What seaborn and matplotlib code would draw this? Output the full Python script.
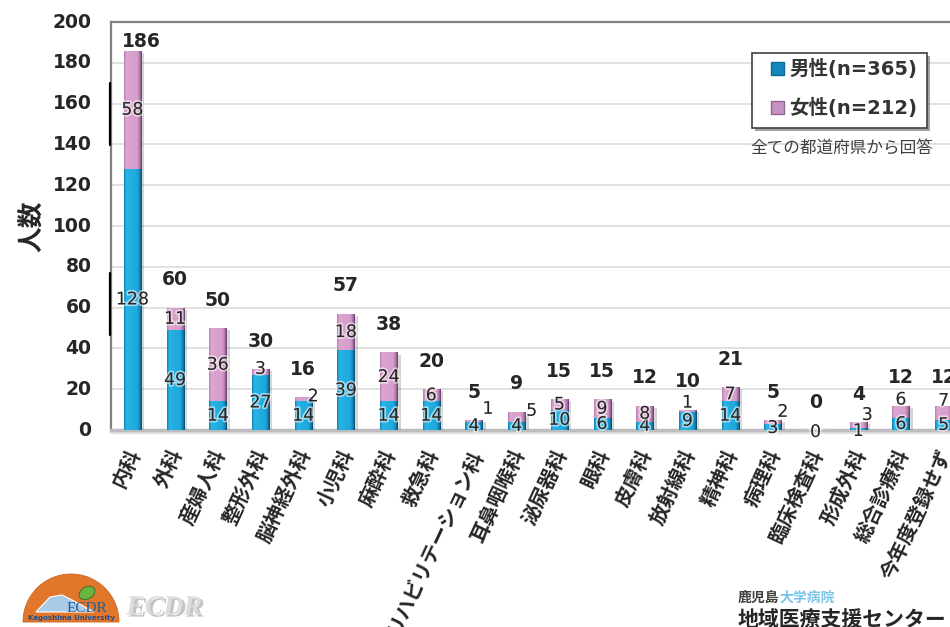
import numpy as np
import pandas as pd
import matplotlib
matplotlib.use("Agg")
import matplotlib.pyplot as plt
import matplotlib.patheffects as pe
from matplotlib.colors import LinearSegmentedColormap
from matplotlib.patches import Patch, Wedge, Polygon, Ellipse, Rectangle
from matplotlib.transforms import ScaledTranslation
import seaborn as sns

departments = ["内科", "外科", "産婦人科", "整形外科", "脳神経外科", "小児科", "麻酔科", "救急科",
               "リハビリテーション科", "耳鼻咽喉科", "泌尿器科", "眼科", "皮膚科", "放射線科",
               "精神科", "病理科", "臨床検査科", "形成外科", "総合診療科", "今年度登録せず"]
male = [128, 49, 14, 27, 14, 39, 14, 14, 4, 4, 10, 6, 4, 9, 14, 3, 0, 1, 6, 5]
female = [58, 11, 36, 3, 2, 18, 24, 6, 1, 5, 5, 9, 8, 1, 7, 2, 0, 3, 6, 7]
totals = [186, 60, 50, 30, 16, 57, 38, 20, 5, 9, 15, 15, 12, 10, 21, 5, 0, 4, 12, 12]
y_ticks = list(range(0, 201, 20))

# Small segments carry their label beside or above the bar (pixel offsets).
female_offsets = {3: (0, 3), 4: (10, 3), 8: (14, 12), 9: (15, 6), 13: (0, 8),
                  15: (10, 10), 16: (0, 0), 17: (9, 10), 18: (0, 12), 19: (0, 12)}
male_offsets = {15: (0, -1), 17: (0, -2), 16: (0, -2)}

sns.set_theme(style="white")
plt.rcParams["font.family"] = ["DejaVu Sans", "Noto Sans CJK JP"]

W, H = 950, 627
fig = plt.figure(figsize=(W / 100, H / 100), dpi=100, facecolor="white")
ax = fig.add_axes([111 / W, 1 - 430 / H, 854 / W, 408 / H])
ax.set_axisbelow(True)

df = pd.DataFrame({"dept": departments, "male": male, "female": female})
MALE_C, FEMALE_C = "#1ea7dc", "#d29ac6"
shadow = [pe.SimplePatchShadow(offset=(2.5, -1.5), shadow_rgbFace="#555555", alpha=0.25), pe.Normal()]
sns.barplot(data=df, x="dept", y="male", color=MALE_C, width=0.4, saturation=1, ax=ax, zorder=3)
sns.barplot(data=df, x="dept", y="female", bottom=df["male"], color=FEMALE_C, width=0.4,
            saturation=1, ax=ax, zorder=3)
ax.set_xlim(-0.5, 19.5)
ax.set_ylim(0, 200)

# Glossy shading laid over every bar, clipped to the bar itself.
male_cm = LinearSegmentedColormap.from_list(
    "m", [(0, "#0f7fb0"), (0.12, "#27b4e6"), (0.75, "#1ea7dc"), (0.9, "#147fb0"), (1, "#07486c")])
female_cm = LinearSegmentedColormap.from_list(
    "f", [(0, "#b67fb0"), (0.12, "#dca6d0"), (0.75, "#d69ecb"), (0.9, "#ab74a6"), (1, "#5f3568")])
grad = np.linspace(0, 1, 64)[None, :]
for container, cmap in zip(ax.containers, (male_cm, female_cm)):
    for bar in container:
        bar.set_path_effects(shadow)
        if bar.get_height() <= 0:
            continue
        x0, y0 = bar.get_x(), bar.get_y()
        x1, y1 = x0 + bar.get_width(), y0 + bar.get_height()
        im = ax.imshow(grad, cmap=cmap, aspect="auto", extent=(x0, x1, y0, y1), zorder=3.2)
        im.set_clip_path(bar)
ax.set_xlim(-0.5, 19.5)
ax.set_ylim(0, 200)

# Grid and frame
ax.yaxis.grid(True, color="#d9d9d9", lw=1.1)
ax.xaxis.grid(False)
ax.spines["right"].set_visible(False)
for side in ("top", "left"):
    ax.spines[side].set_color("#808080")
    ax.spines[side].set_linewidth(1.6)
ax.spines["bottom"].set_color("#bdbdbd")
ax.spines["bottom"].set_linewidth(2.5)
ax.plot([0, 1], [-0.006, -0.006], transform=ax.transAxes, color="#e2e2e2", lw=2.5,
        clip_on=False, zorder=2)
for lo, hi in ((273, 335), (83, 145)):
    ax.plot([-0.0015, -0.0015], [(430 - lo) / 408, (430 - hi) / 408], transform=ax.transAxes,
            color="black", lw=1.6, clip_on=False, zorder=6)

# Axis text
ax.set_yticks(y_ticks)
ax.set_yticklabels(y_ticks, fontsize=13.5, fontweight="bold", color="#262626")
ax.tick_params(axis="y", length=0, pad=14)
lift = ScaledTranslation(0, 2 / 100, fig.dpi_scale_trans)
for lab in ax.get_yticklabels():
    lab.set_transform(lab.get_transform() + lift)
ax.set_xticks(range(len(departments)))
ax.set_xticklabels(departments, rotation=65, ha="right", va="center", rotation_mode="anchor",
                   fontsize=14.5, fontweight="bold", color="#262626")
ax.tick_params(axis="x", length=0, pad=15)
nudge = ScaledTranslation(3 / 100, 0, fig.dpi_scale_trans)
for lab in ax.get_xticklabels():
    lab.set_transform(lab.get_transform() + nudge)
ax.set_xlabel("")
ax.set_ylabel("人数", fontsize=18.5, fontweight="bold", color="#262626", labelpad=5)

# Value labels
halo = [pe.withStroke(linewidth=2.5, foreground="white", alpha=0.55)]
for i in range(len(departments)):
    dx, dy = male_offsets.get(i, (0, 0))
    ax.annotate(male[i], (i, male[i] / 2), xytext=(dx * 0.72, dy * 0.72), textcoords="offset points",
                ha="center", va="center", fontsize=12.5, color="#262626", zorder=5,
                path_effects=halo, annotation_clip=False)
    if i != 16:
        dx, dy = female_offsets.get(i, (0, 0))
        ax.annotate(female[i], (i, male[i] + female[i] / 2), xytext=(dx * 0.72, dy * 0.72),
                    textcoords="offset points", ha="center", va="center", fontsize=12.5,
                    color="#262626", zorder=5, path_effects=halo, annotation_clip=False)
    shift = (6.5, 6.5) if i == 0 else (0, 20)
    ax.annotate(totals[i], (i, totals[i]), xytext=shift, textcoords="offset points",
                ha="center", va="center", fontsize=13.5, fontweight="bold",
                color="#262626", zorder=5, annotation_clip=False)

# Page-level overlay in pixel coordinates
over = fig.add_axes([0, 0, 1, 1], facecolor="none")
over.set_xlim(0, W)
over.set_ylim(H, 0)
over.axis("off")

# Legend box with a drop shadow, legend entries on top of it
over.add_patch(Rectangle((752, 53), 175, 75, facecolor="white", edgecolor="#404040", lw=1.2, zorder=2,
                         path_effects=[pe.SimplePatchShadow(offset=(2.5, -2.5), shadow_rgbFace="#666666",
                                                            alpha=0.6), pe.Normal()]))
handles = [Patch(facecolor="#1488bd", edgecolor="#0d6a96", label="男性(n=365)"),
           Patch(facecolor="#c493c0", edgecolor="#93649a", label="女性(n=212)")]
leg = over.legend(handles=handles, loc="upper left", bbox_to_anchor=(767 / W, 1 - 55 / H),
                  bbox_transform=fig.transFigure, frameon=False, fontsize=14, handlelength=0.65,
                  handleheight=0.65, handletextpad=0.3, labelspacing=0.98, borderpad=0.2, borderaxespad=0)
leg.set_zorder(3)
for t in leg.get_texts():
    t.set_fontweight("bold")
    t.set_color("#333333")

over.text(842, 148, "全ての都道府県から回答", ha="center", va="center", fontsize=12, color="#404040")

# Bottom-left emblem
over.add_patch(Wedge((71, 622), 48, 180, 360, facecolor="#e2762a", edgecolor="#c9641f", lw=0.6))
over.add_patch(Polygon([(36, 612), (50, 597), (62, 595), (72, 600), (94, 612)],
                       facecolor="#a9cbe8", edgecolor="white", lw=0.8))
over.add_patch(Ellipse((87, 593), 17, 12, angle=-30, facecolor="#6db33f", edgecolor="#2f6f1e", lw=0.6))
over.text(87, 608, "ECDR", ha="center", va="center", fontsize=11, family="Liberation Serif", color="#1f5f93")
over.text(71, 618, "Kagoshima University", ha="center", va="center", fontsize=5, fontweight="bold", color="#1f4f8f")
over.text(164, 608, "ECDR", ha="center", va="center", fontsize=20, family="Liberation Serif",
          style="italic", fontweight="bold", color="#dcdcdc",
          path_effects=[pe.withSimplePatchShadow(offset=(2, -1.5), shadow_rgbFace="#888888", alpha=0.5)])

# Bottom-right signature
over.text(738, 598, "鹿児島", ha="left", va="center", fontsize=10, fontweight="bold", color="#404040")
over.text(780, 598, "大学病院", ha="left", va="center", fontsize=10, fontweight="bold", color="#7cc4e8")
over.text(738, 620, "地域医療支援センター", ha="left", va="center", fontsize=15, fontweight="bold", color="#262626")

fig.savefig("out.png", dpi=100, facecolor="white")
